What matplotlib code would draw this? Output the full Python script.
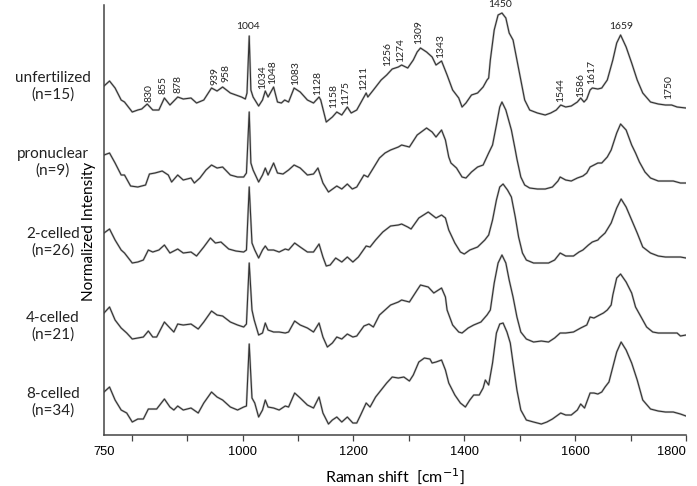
import matplotlib
matplotlib.use("Agg")
import matplotlib.pyplot as plt

# Raman spectra (mean), normalized intensity
x_unf = [750, 760, 770, 781, 787, 801, 811, 818, 828, 838, 849, 859, 869, 883, 893, 907, 917, 930, 944, 954,
         964, 978, 998, 1005, 1008, 1012, 1015, 1019, 1029, 1036, 1041, 1046, 1056, 1063, 1070, 1076, 1083,
         1093, 1104, 1117, 1128, 1138, 1141, 1151, 1162, 1170, 1179, 1189, 1196, 1206, 1223, 1226, 1236, 1250,
         1260, 1270, 1281, 1287, 1298, 1308, 1315, 1321, 1332, 1342, 1349, 1359, 1369, 1379, 1390, 1396, 1403,
         1413, 1424, 1434, 1441, 1444, 1447, 1454, 1461, 1468, 1475, 1481, 1488, 1495, 1502, 1509, 1518, 1532,
         1546, 1556, 1566, 1574, 1583, 1593, 1604, 1610, 1616, 1621, 1627, 1631, 1641, 1648, 1658, 1668, 1675,
         1682, 1692, 1702, 1712, 1722, 1736, 1750, 1763, 1774, 1784, 1800]
y_unf = [0.39, 0.44, 0.37, 0.25, 0.23, 0.13, 0.15, 0.16, 0.21, 0.15, 0.15, 0.27, 0.20, 0.28, 0.26, 0.27, 0.22,
         0.25, 0.37, 0.34, 0.38, 0.32, 0.28, 0.26, 0.32, 0.89, 0.35, 0.28, 0.19, 0.25, 0.34, 0.28, 0.38, 0.23,
         0.22, 0.25, 0.23, 0.37, 0.33, 0.25, 0.22, 0.28, 0.25, 0.03, 0.08, 0.13, 0.10, 0.18, 0.12, 0.15, 0.32,
         0.28, 0.35, 0.45, 0.50, 0.56, 0.58, 0.60, 0.57, 0.65, 0.73, 0.77, 0.73, 0.68, 0.60, 0.64, 0.50, 0.35,
         0.27, 0.18, 0.22, 0.30, 0.32, 0.38, 0.45, 0.47, 0.65, 0.95, 1.10, 1.12, 1.07, 0.92, 0.85, 0.65, 0.45,
         0.25, 0.15, 0.12, 0.10, 0.12, 0.15, 0.20, 0.18, 0.19, 0.23, 0.27, 0.23, 0.26, 0.35, 0.37, 0.36, 0.37,
         0.45, 0.65, 0.82, 0.90, 0.78, 0.62, 0.45, 0.32, 0.23, 0.21, 0.20, 0.20, 0.18, 0.17]

x_pro = [750, 760, 770, 781, 787, 798, 811, 825, 832, 842, 855, 866, 872, 883, 893, 907, 913, 923, 934, 944,
         954, 964, 978, 991, 1002, 1007, 1012, 1015, 1019, 1029, 1036, 1041, 1046, 1056, 1063, 1073, 1083,
         1093, 1104, 1117, 1128, 1136, 1145, 1155, 1170, 1179, 1189, 1198, 1206, 1219, 1226, 1236, 1247, 1257,
         1267, 1281, 1287, 1301, 1315, 1332, 1342, 1349, 1359, 1366, 1372, 1376, 1386, 1396, 1403, 1413, 1424,
         1434, 1444, 1451, 1458, 1464, 1468, 1475, 1485, 1492, 1495, 1502, 1509, 1518, 1532, 1546, 1559, 1569,
         1573, 1583, 1593, 1604, 1614, 1621, 1627, 1634, 1641, 1648, 1658, 1665, 1675, 1682, 1692, 1702, 1709,
         1716, 1726, 1736, 1750, 1763, 1777, 1790, 1800]
y_pro = [0.40, 0.42, 0.32, 0.20, 0.20, 0.09, 0.08, 0.10, 0.21, 0.22, 0.24, 0.20, 0.13, 0.20, 0.15, 0.17, 0.12,
         0.17, 0.25, 0.30, 0.27, 0.28, 0.20, 0.18, 0.18, 0.22, 0.83, 0.32, 0.25, 0.13, 0.20, 0.27, 0.20, 0.32,
         0.22, 0.21, 0.25, 0.30, 0.27, 0.20, 0.21, 0.27, 0.12, 0.03, 0.09, 0.06, 0.11, 0.06, 0.08, 0.20, 0.18,
         0.27, 0.37, 0.42, 0.45, 0.48, 0.50, 0.48, 0.60, 0.67, 0.63, 0.58, 0.65, 0.55, 0.38, 0.32, 0.27, 0.18,
         0.17, 0.23, 0.28, 0.30, 0.42, 0.50, 0.70, 0.88, 0.93, 0.85, 0.65, 0.45, 0.36, 0.18, 0.10, 0.07, 0.06,
         0.06, 0.08, 0.14, 0.18, 0.15, 0.14, 0.17, 0.19, 0.22, 0.28, 0.30, 0.32, 0.32, 0.38, 0.45, 0.62, 0.71,
         0.65, 0.50, 0.42, 0.33, 0.23, 0.17, 0.14, 0.14, 0.14, 0.12, 0.12]

x_2c = [750, 760, 770, 781, 787, 801, 811, 821, 830, 838, 849, 859, 869, 883, 893, 907, 917, 930, 942, 951,
        961, 975, 988, 1002, 1007, 1012, 1017, 1022, 1029, 1036, 1041, 1046, 1056, 1066, 1077, 1083, 1094,
        1104, 1117, 1128, 1138, 1145, 1151, 1158, 1168, 1179, 1189, 1199, 1209, 1223, 1230, 1240, 1253, 1267,
        1281, 1287, 1298, 1304, 1318, 1335, 1342, 1349, 1359, 1366, 1372, 1383, 1393, 1400, 1410, 1424, 1437,
        1444, 1451, 1458, 1464, 1470, 1478, 1485, 1492, 1498, 1505, 1512, 1525, 1539, 1552, 1563, 1573, 1583,
        1597, 1607, 1614, 1624, 1631, 1641, 1644, 1654, 1665, 1675, 1683, 1692, 1702, 1712, 1722, 1736, 1750,
        1763, 1777, 1790, 1800]
y_2c = [0.32, 0.36, 0.25, 0.15, 0.12, 0.02, 0.03, 0.05, 0.15, 0.13, 0.15, 0.20, 0.12, 0.16, 0.12, 0.13, 0.09,
        0.18, 0.27, 0.22, 0.23, 0.16, 0.14, 0.13, 0.15, 0.78, 0.22, 0.15, 0.07, 0.15, 0.19, 0.15, 0.15, 0.13,
        0.16, 0.15, 0.22, 0.18, 0.13, 0.13, 0.21, 0.08, -0.01, 0.00, 0.07, 0.03, 0.08, 0.03, 0.08, 0.19, 0.18,
        0.25, 0.33, 0.39, 0.40, 0.41, 0.38, 0.36, 0.47, 0.53, 0.50, 0.47, 0.50, 0.47, 0.35, 0.22, 0.13, 0.11,
        0.15, 0.18, 0.25, 0.30, 0.45, 0.65, 0.78, 0.81, 0.75, 0.68, 0.48, 0.28, 0.12, 0.05, 0.02, 0.02, 0.02,
        0.05, 0.12, 0.09, 0.09, 0.13, 0.15, 0.20, 0.23, 0.25, 0.27, 0.32, 0.42, 0.57, 0.66, 0.58, 0.45, 0.32,
        0.18, 0.12, 0.09, 0.08, 0.08, 0.08, 0.07]

x_4c = [750, 760, 770, 781, 791, 801, 811, 821, 830, 838, 845, 859, 869, 876, 883, 893, 907, 920, 930, 944,
        954, 964, 978, 991, 1002, 1007, 1012, 1017, 1021, 1029, 1036, 1041, 1046, 1056, 1066, 1077, 1083,
        1094, 1104, 1117, 1128, 1138, 1145, 1153, 1162, 1170, 1179, 1189, 1199, 1206, 1219, 1228, 1236, 1247,
        1257, 1267, 1281, 1287, 1301, 1315, 1321, 1335, 1345, 1359, 1366, 1369, 1379, 1390, 1396, 1407, 1417,
        1430, 1441, 1447, 1454, 1461, 1468, 1475, 1481, 1488, 1495, 1502, 1512, 1525, 1539, 1552, 1563, 1573,
        1583, 1597, 1610, 1621, 1627, 1634, 1644, 1651, 1658, 1665, 1668, 1675, 1682, 1692, 1702, 1709, 1719,
        1729, 1740, 1750, 1763, 1774, 1784, 1790, 1800]
y_4c = [0.32, 0.38, 0.25, 0.17, 0.12, 0.06, 0.07, 0.08, 0.14, 0.08, 0.08, 0.23, 0.17, 0.13, 0.21, 0.20, 0.21,
        0.16, 0.23, 0.34, 0.30, 0.29, 0.23, 0.20, 0.18, 0.21, 0.82, 0.35, 0.25, 0.10, 0.12, 0.22, 0.15, 0.13,
        0.13, 0.12, 0.13, 0.24, 0.20, 0.17, 0.13, 0.22, 0.08, -0.02, 0.02, 0.08, 0.06, 0.11, 0.08, 0.09, 0.19,
        0.21, 0.18, 0.30, 0.35, 0.40, 0.43, 0.45, 0.43, 0.55, 0.60, 0.58, 0.52, 0.57, 0.48, 0.35, 0.20, 0.13,
        0.12, 0.17, 0.20, 0.23, 0.30, 0.35, 0.62, 0.82, 0.90, 0.82, 0.65, 0.48, 0.28, 0.13, 0.06, 0.03, 0.04,
        0.03, 0.07, 0.12, 0.12, 0.13, 0.17, 0.20, 0.28, 0.27, 0.30, 0.32, 0.35, 0.40, 0.50, 0.67, 0.71, 0.63,
        0.52, 0.38, 0.28, 0.18, 0.13, 0.12, 0.12, 0.12, 0.12, 0.09, 0.10]

x_8c = [750, 760, 770, 781, 791, 801, 811, 821, 830, 845, 859, 869, 876, 883, 893, 907, 920, 930, 944, 954,
        964, 978, 991, 1002, 1007, 1012, 1017, 1022, 1029, 1036, 1041, 1046, 1056, 1066, 1077, 1083, 1094,
        1104, 1117, 1128, 1138, 1145, 1155, 1162, 1170, 1179, 1189, 1199, 1206, 1213, 1223, 1230, 1240, 1250,
        1260, 1270, 1281, 1291, 1301, 1308, 1318, 1328, 1338, 1342, 1349, 1359, 1366, 1372, 1383, 1393, 1402,
        1410, 1417, 1427, 1434, 1438, 1444, 1451, 1458, 1464, 1470, 1477, 1483, 1488, 1495, 1502, 1512, 1525,
        1539, 1549, 1559, 1574, 1583, 1593, 1604, 1610, 1617, 1627, 1634, 1641, 1648, 1654, 1661, 1668, 1675,
        1683, 1692, 1702, 1712, 1722, 1736, 1750, 1763, 1777, 1790, 1800]
y_8c = [0.33, 0.38, 0.25, 0.15, 0.12, 0.03, 0.06, 0.06, 0.16, 0.16, 0.26, 0.18, 0.15, 0.19, 0.15, 0.17, 0.12,
        0.22, 0.33, 0.28, 0.25, 0.18, 0.15, 0.18, 0.19, 0.81, 0.27, 0.22, 0.08, 0.15, 0.25, 0.18, 0.17, 0.15,
        0.19, 0.18, 0.32, 0.27, 0.20, 0.17, 0.28, 0.12, 0.01, 0.05, 0.08, 0.03, 0.08, 0.02, 0.02, 0.10, 0.22,
        0.18, 0.28, 0.35, 0.42, 0.48, 0.47, 0.48, 0.44, 0.50, 0.63, 0.67, 0.66, 0.62, 0.63, 0.65, 0.55, 0.42,
        0.30, 0.22, 0.18, 0.25, 0.30, 0.30, 0.37, 0.45, 0.40, 0.62, 0.92, 1.01, 1.02, 0.93, 0.82, 0.62, 0.35,
        0.15, 0.05, 0.03, 0.01, 0.03, 0.06, 0.12, 0.10, 0.10, 0.15, 0.21, 0.17, 0.32, 0.32, 0.31, 0.33, 0.38,
        0.43, 0.58, 0.73, 0.83, 0.75, 0.62, 0.45, 0.25, 0.16, 0.14, 0.13, 0.13, 0.11, 0.09]

groups = ["unfertilized\n(n=15)", "pronuclear\n(n=9)", "2-celled\n(n=26)", "4-celled\n(n=21)", "8-celled\n(n=34)"]
offsets = [3.1, 2.4, 1.7, 0.9, 0.1]
group_label_y = [3.49, 2.73, 1.93, 1.09, 0.33]

# band assignments marked on the top spectrum
peak_labels = ["830", "855", "878", "939", "958", "1034", "1048", "1083", "1128", "1158", "1175", "1211",
               "1256", "1274", "1309", "1343", "1544", "1586", "1617", "1750"]
peak_x = [831, 857, 883, 950, 970, 1037, 1055, 1095, 1136, 1165, 1186, 1219,
          1262, 1286, 1318, 1358, 1574, 1610, 1630, 1769]
peak_y = [3.42, 3.50, 3.51, 3.59, 3.62, 3.58, 3.63, 3.62, 3.52, 3.39, 3.42, 3.57,
          3.81, 3.85, 4.03, 3.89, 3.45, 3.50, 3.63, 3.48]
top_labels = ["1004", "1450", "1659"]
top_x = [1010, 1464, 1683]
top_y = [4.09, 4.31, 4.09]

spectra = [(x_unf, y_unf), (x_pro, y_pro), (x_2c, y_2c), (x_4c, y_4c), (x_8c, y_8c)]

fig = plt.figure(figsize=(6.97, 4.86), dpi=100)
ax = fig.add_axes([0.1492, 0.1049, 0.835, 0.8848])

for (xs, ys), off in zip(spectra, offsets):
    yy = [v + off for v in ys]
    ax.plot(xs, yy, color="#c4c4c4", lw=1.6, solid_joinstyle="round")
    ax.plot(xs, yy, color="#333333", lw=0.8, solid_joinstyle="round")

for name, gy in zip(groups, group_label_y):
    ax.text(-0.088, gy, name, transform=ax.get_yaxis_transform(), ha="center", va="center",
            fontsize=11, family="Lato", color="#222222", linespacing=1.2)

for lab, px, py in zip(peak_labels, peak_x, peak_y):
    ax.text(px, py, lab, rotation=90, ha="center", va="center", fontsize=7.5, family="Lato", color="#222222")
for lab, px, py in zip(top_labels, top_x, top_y):
    ax.text(px, py, lab, ha="center", va="center", fontsize=7.5, family="Lato", color="#222222")

ax.set_xlim(750, 1800)
ax.set_ylim(0, 4.3)
ax.set_yticks([])
ax.set_xticks([750, 1000, 1200, 1400, 1600, 1800])
ax.set_xticks([800, 900, 1100, 1300, 1500, 1700], minor=True)
ax.tick_params(axis="x", which="both", direction="out", length=4, width=0.9, color="#444444",
               labelsize=9.3, pad=4)
for lab in ax.get_xticklabels():
    lab.set_family("Liberation Sans")
ax.get_xticklabels()[-1].set_horizontalalignment("right")
ax.xaxis.get_major_ticks()[0].tick1line.set_visible(False)

for s in ["top", "right"]:
    ax.spines[s].set_visible(False)
for s in ["left", "bottom"]:
    ax.spines[s].set_color("#444444")
    ax.spines[s].set_linewidth(1.1)

ax.set_xlabel("Raman shift  [cm$^{-1}$]", fontsize=11.5, family="Lato", labelpad=6)
ax.set_ylabel("Normalized Intensity", fontsize=11, family="Lato")
ax.yaxis.set_label_coords(-0.013, 0.474)

fig.savefig("out.png", dpi=100)
